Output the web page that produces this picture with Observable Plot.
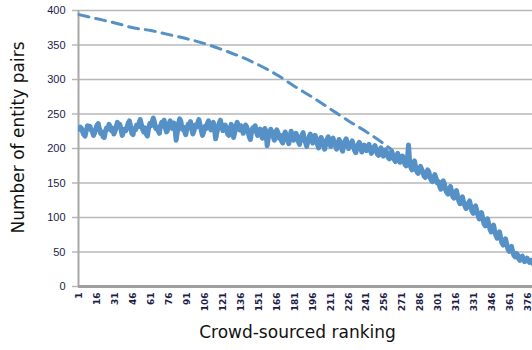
<!DOCTYPE html>
<html>
<head>
<meta charset="utf-8">
<script src="https://cdn.jsdelivr.net/npm/d3@7"></script>
<script src="https://cdn.jsdelivr.net/npm/@observablehq/plot@0.6"></script>
<style>
  html, body { margin: 0; padding: 0; background: #fff; overflow: hidden; }
  #chart svg { display: block; max-width: none; }
</style>
</head>
<body>
<div id="chart"></div>
<script>
// Observed entity pairs per crowd-sourced rank (rank 1..380)
const observed = [
  228, 231, 229, 224, 220, 218, 226, 233, 230, 232, 227, 225, 219, 223, 229,
  234, 236, 228, 222, 224, 217, 216, 225, 230, 228, 235, 231, 226, 229, 221,
  225, 232, 238, 233, 235, 227, 219, 224, 228, 226, 230, 237, 240, 232, 222,
  220, 229, 227, 234, 231, 236, 242, 235, 228, 224, 230, 221, 218, 229, 236,
  233, 239, 244, 237, 229, 231, 226, 222, 233, 238, 235, 241, 230, 224, 227,
  236, 240, 233, 229, 237, 231, 212, 224, 236, 243, 239, 228, 231, 225, 220,
  229, 235, 233, 239, 228, 221, 226, 234, 231, 237, 242, 234, 226, 219, 224,
  232, 229, 236, 240, 231, 227, 234, 238, 229, 214, 223, 231, 237, 241, 232,
  226, 230, 234, 228, 221, 219, 227, 235, 229, 216, 224, 233, 238, 231, 227,
  233, 229, 222, 226, 234, 231, 225, 217, 213, 224, 230, 227, 233, 224, 219,
  226, 228, 220, 215, 223, 229, 225, 204, 216, 221, 228, 224, 217, 212, 222,
  227, 223, 215, 219, 211, 208, 218, 224, 220, 213, 207, 215, 225, 219, 212,
  216, 222, 218, 210, 206, 214, 219, 223, 212, 209, 203, 211, 217, 221, 214,
  208, 212, 219, 214, 206, 201, 210, 216, 212, 205, 199, 207, 213, 217, 209,
  203, 211, 215, 208, 204, 199, 206, 213, 209, 201, 196, 205, 211, 214, 206,
  200, 203, 208, 211, 204, 197, 194, 201, 206, 209, 202, 195, 199, 205, 203,
  197, 201, 206, 199, 193, 196, 202, 204, 198, 192, 190, 197, 201, 195, 189,
  193, 198, 194, 187, 185, 192, 196, 190, 184, 181, 188, 193, 187, 180, 183,
  189, 184, 177, 175, 183, 205, 180, 172, 169, 178, 182, 173, 166, 164, 171,
  174, 170, 166, 160, 158, 163, 169, 166, 158, 154, 152, 159, 162, 157, 150,
  152, 145, 141, 148, 153, 149, 140, 136, 134, 141, 145, 138, 130, 128, 135,
  139, 131, 124, 120, 126, 130, 122, 117, 113, 115, 121, 124, 116, 109, 106,
  113, 117, 110, 103, 98, 101, 107, 99, 91, 88, 95, 98, 90, 83, 79,
  86, 89, 80, 74, 70, 76, 79, 70, 63, 60, 66, 69, 61, 54, 51,
  56, 58, 50, 45, 43, 48, 46, 40, 38, 43, 44, 39, 36, 38, 41,
  37, 35, 38, 36, 33
];

// Expected curve (dashed), sampled at ranks
const expectedRank = [1, 16, 31, 46, 61, 76, 91, 106, 121, 136, 151, 166, 181, 196, 211, 226, 241, 256, 262];
const expectedValue = [394, 388, 382, 375, 371, 365, 359, 352, 343, 333, 321, 307, 290, 274, 257, 240, 224, 206, 198];

// Axis tick labels
const xTicks = [1, 16, 31, 46, 61, 76, 91, 106, 121, 136, 151, 166, 181, 196, 211, 226, 241, 256, 271, 286, 301, 316, 331, 346, 361, 376];
const yTicks = [0, 50, 100, 150, 200, 250, 300, 350, 400];

const obsData = observed.map((v, i) => ({rank: i + 1, value: v}));
const expData = expectedRank.map((r, i) => ({rank: r, value: expectedValue[i]}));

const blue = "#5591c6";
const tickColor = "#1c1c48";

const chart = Plot.plot({
  width: 532,
  height: 350,
  marginLeft: 78,
  marginRight: 0,
  marginTop: 10,
  marginBottom: 64,
  style: {fontFamily: "Liberation Sans, Arial, sans-serif", background: "#fff"},
  x: {domain: [0.5, 379.5], axis: null},
  y: {domain: [0, 400], axis: null},
  marks: [
    Plot.gridY(yTicks, {stroke: "#b8b8b8", strokeOpacity: 1, strokeWidth: 1.5}),
    Plot.axisY(yTicks, {
      tickSize: 6, tickPadding: 7, stroke: "#b8b8b8", strokeWidth: 1.5,
      fill: tickColor, fontSize: 11, label: null
    }),
    Plot.axisX(xTicks, {
      tickSize: 0, tickPadding: 6, tickRotate: -90,
      fill: tickColor, fontSize: 9, fontWeight: "bold", label: null,
      fontFamily: "DejaVu Sans, sans-serif"
    }),
    Plot.ruleX([0.5], {stroke: "#a8a8a8", strokeWidth: 2}),
    Plot.line(obsData, {x: "rank", y: "value", stroke: blue, strokeWidth: 5, strokeLinejoin: "round", clip: true}),
    Plot.line(expData, {x: "rank", y: "value", stroke: blue, strokeWidth: 3, strokeDasharray: "10,7", curve: "monotone-x"}),
    Plot.ruleY([0], {stroke: "#a0a0a0", strokeWidth: 3}),
    Plot.text(["Crowd-sourced ranking"], {frameAnchor: "bottom", dx: -8, dy: 51, fontSize: 17, fill: "#111", fontFamily: "DejaVu Sans, sans-serif"}),
    Plot.text(["Number of entity pairs"], {frameAnchor: "left", textAnchor: "middle", dx: -60, dy: -11, rotate: -90, fontSize: 17, fill: "#111", fontFamily: "DejaVu Sans, sans-serif"})
  ]
});
document.getElementById("chart").appendChild(chart);
</script>
</body>
</html>
